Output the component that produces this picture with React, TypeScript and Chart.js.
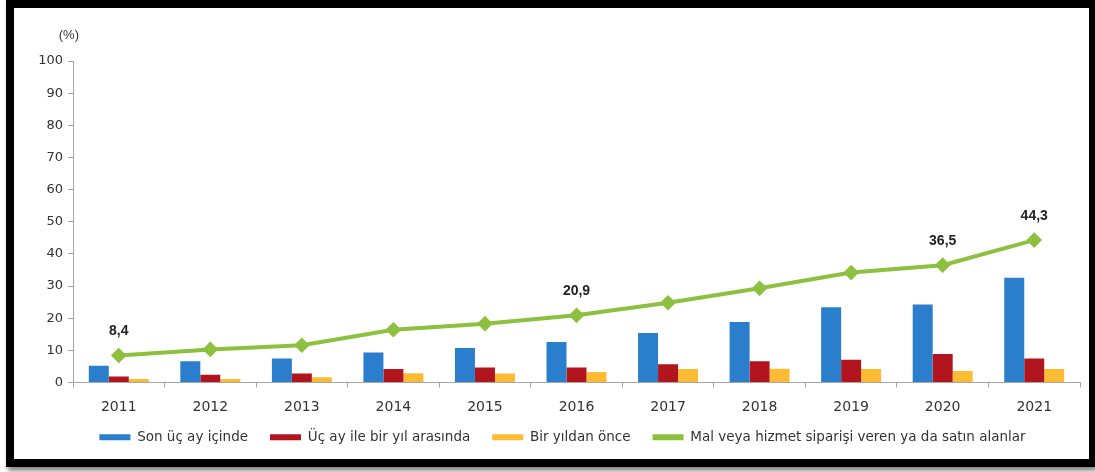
import React, { useEffect, useRef } from "react";
import { Chart, registerables } from "chart.js";

Chart.register(...registerables);

const years = ["2011", "2012", "2013", "2014", "2015", "2016", "2017", "2018", "2019", "2020", "2021"];
const sonUcAy = [5.2, 6.6, 7.5, 9.3, 10.7, 12.6, 15.4, 18.8, 23.4, 24.3, 32.6];
const ucAyBirYil = [1.9, 2.4, 2.8, 4.2, 4.7, 4.7, 5.7, 6.6, 7.1, 8.9, 7.5];
const birYildanOnce = [1.1, 1.1, 1.6, 2.9, 2.8, 3.3, 4.2, 4.3, 4.2, 3.6, 4.2];
const toplam = [8.4, 10.3, 11.6, 16.4, 18.3, 20.9, 24.8, 29.3, 34.2, 36.5, 44.3];
const labeledYears = ["2011", "2016", "2020", "2021"];
const yTicks = [0, 10, 20, 30, 40, 50, 60, 70, 80, 90, 100];

const FONT = "'Liberation Sans', Arial, sans-serif";
const WIDE = "'DejaVu Sans', sans-serif";

const overlayPlugin = {
  id: "overlay",
  afterLayout(chart: any) {
    const lg = chart.legend;
    if (lg) {
      lg.left += 6;
      lg.right += 6;
      lg.top -= 5;
      lg.bottom -= 5;
    }
  },
  afterDatasetsDraw(chart: any) {
    const ctx = chart.ctx;
    const area = chart.chartArea;
    ctx.save();
    ctx.fillStyle = "#333333";
    ctx.font = `13px ${FONT}`;
    ctx.textAlign = "right";
    ctx.textBaseline = "middle";
    ctx.fillText("(%)", area.left + 6, area.top - 26);
    const meta = chart.getDatasetMeta(3);
    ctx.font = `bold 14px ${FONT}`;
    ctx.textAlign = "center";
    ctx.fillStyle = "#222222";
    meta.data.forEach((pt: any, i: number) => {
      if (labeledYears.includes(years[i])) {
        ctx.fillText(String(toplam[i]).replace(".", ","), pt.x, pt.y - 24);
      }
    });
    ctx.restore();
  },
};

export default function App() {
  const ref = useRef<HTMLCanvasElement | null>(null);
  useEffect(() => {
    if (!ref.current) return;
    const chart = new Chart(ref.current, {
      type: "bar",
      data: {
        labels: years,
        datasets: [
          { type: "bar", label: "Son üç ay içinde", data: sonUcAy, backgroundColor: "#2a7ecb", borderWidth: 0, order: 1 },
          { type: "bar", label: "Üç ay ile bir yıl arasında", data: ucAyBirYil, backgroundColor: "#b3151f", borderWidth: 0, order: 1 },
          { type: "bar", label: "Bir yıldan önce", data: birYildanOnce, backgroundColor: "#fcbb32", borderWidth: 0, order: 1 },
          {
            type: "line",
            label: "Mal veya hizmet siparişi veren ya da satın alanlar",
            data: toplam,
            borderColor: "#8cc03e",
            backgroundColor: "#8cc03e",
            borderWidth: 4,
            pointStyle: "rectRot",
            pointRadius: 5,
            pointBackgroundColor: "#8cc03e",
            pointBorderColor: "#8cc03e",
            tension: 0,
            order: 0,
          } as any,
        ],
      },
      options: {
        animation: false,
        responsive: false,
        maintainAspectRatio: false,
        datasets: { bar: { categoryPercentage: 0.655, barPercentage: 1 } },
        layout: { padding: { left: 18, right: 8, top: 53, bottom: 0 } },
        plugins: {
          tooltip: { enabled: false },
          legend: {
            position: "bottom",
            labels: {
              boxWidth: 31,
              boxHeight: 6,
              padding: 22,
              color: "#333333",
              font: { family: WIDE, size: 13.5 },
              sort: (a: any, b: any) => a.datasetIndex - b.datasetIndex,
              generateLabels: (c: any) =>
                Chart.defaults.plugins.legend.labels.generateLabels(c).map((l: any) => ({ ...l, lineWidth: 0 })),
            },
          },
        },
        scales: {
          x: {
            grid: { display: true, drawOnChartArea: false, drawTicks: true, tickLength: 5, color: "#a6a6a6", offset: true },
            border: { display: true, color: "#a6a6a6" },
            ticks: { color: "#333333", font: { family: WIDE, size: 14 }, padding: 11 },
            afterFit: (s: any) => { s.height = 31; },
          },
          y: {
            min: 0,
            max: 100,
            grid: { display: true, drawOnChartArea: false, drawTicks: true, tickLength: 5, color: "#a6a6a6" },
            border: { display: true, color: "#a6a6a6" },
            afterBuildTicks: (s: any) => { s.ticks = yTicks.map((v) => ({ value: v })); },
            ticks: { color: "#333333", font: { family: WIDE, size: 13 }, padding: 5 },
            afterFit: (s: any) => { s.width = 41; },
          },
        },
      },
      plugins: [overlayPlugin],
    });
    return () => chart.destroy();
  }, []);

  return (
    <div
      style={{
        position: "absolute",
        left: 6,
        top: 0,
        width: 1089,
        height: 467,
        boxSizing: "border-box",
        borderStyle: "solid",
        borderColor: "#000",
        borderWidth: "8px 6px 8px 8px",
        background: "#fff",
        boxShadow: "2px 4px 4px rgba(0,0,0,0.45)",
      }}
    >
      <canvas ref={ref} width={1075} height={451} style={{ display: "block" }} />
    </div>
  );
}
